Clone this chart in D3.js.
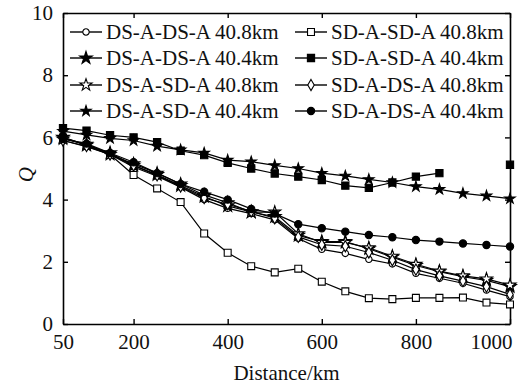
<!DOCTYPE html>
<html>
<head>
<meta charset="utf-8">
<script src="https://cdn.jsdelivr.net/npm/d3@7"></script>
<style>
  body { margin: 0; background: #fff; }
  text { font-family: 'Liberation Serif', 'Times New Roman', serif; fill: #111; }
</style>
</head>
<body>
<div id="chart-container"></div>
<script>
// distances (km)
const distances = [50, 100, 150, 200, 250, 300, 350, 400, 450, 500, 550, 600, 650, 700, 750, 800, 850, 900, 950, 1000];
const xTicks = [50, 200, 400, 600, 800, 1000];
const yTicks = [0, 2, 4, 6, 8, 10];

const seriesNames = [
  'DS-A-DS-A 40.8km', 'SD-A-SD-A 40.8km',
  'DS-A-DS-A 40.4km', 'SD-A-SD-A 40.4km',
  'DS-A-SD-A 40.8km', 'SD-A-DS-A 40.8km',
  'DS-A-SD-A 40.4km', 'SD-A-DS-A 40.4km'
];

// Q values (null = no point)
const dsdsA408 = [5.9, 5.7, 5.45, 5.05, 4.75, 4.4, 4.0, 3.72, 3.55, 3.35, 2.75, 2.4, 2.27, 2.08, 1.93, 1.63, 1.47, 1.31, 1.09, 0.88];
const sdsdA408 = [6.0, 5.75, 5.45, 4.79, 4.36, 3.92, 2.91, 2.29, 1.86, 1.66, 1.78, 1.36, 1.05, 0.83, 0.8, 0.84, 0.84, 0.85, 0.69, 0.63];
const dsdsA404 = [6.0, 5.75, 5.5, 5.1, 4.8, 4.45, 4.1, 3.8, 3.6, 3.45, 2.85, 2.65, 2.65, 2.42, 2.15, 1.88, 1.68, 1.52, 1.4, 1.2];
const sdsdA404 = [6.3, 6.22, 6.07, 6.0, 5.85, 5.57, 5.43, 5.18, 5.0, 4.84, 4.74, 4.63, 4.45, 4.38, 4.55, 4.74, 4.85, null, null, 5.12];
const dssdA408 = [5.95, 5.78, 5.45, 5.15, 4.85, 4.5, 4.15, 3.9, 3.6, 3.6, 2.9, 2.62, 2.62, 2.45, 2.18, 1.92, 1.7, 1.55, 1.45, 1.25];
const sddsA408 = [5.9, 5.72, 5.45, 5.1, 4.78, 4.42, 4.05, 3.85, 3.62, 3.4, 2.8, 2.55, 2.5, 2.3, 2.05, 1.75, 1.55, 1.38, 1.2, 0.95];
const dssdA404 = [6.2, 6.08, 5.97, 5.9, 5.72, 5.6, 5.5, 5.27, 5.22, 5.1, 5.0, 4.85, 4.76, 4.65, 4.55, 4.42, 4.33, 4.2, 4.12, 4.03];
const sddsA404 = [5.95, 5.8, 5.5, 5.2, 4.85, 4.5, 4.25, 4.0, 3.7, 3.55, 3.21, 3.08, 2.97, 2.86, 2.79, 2.7, 2.65, 2.59, 2.54, 2.49];

const seriesValues = [dsdsA408, sdsdA408, dsdsA404, sdsdA404, dssdA408, sddsA408, dssdA404, sddsA404];

// marker style per series
const markers = [
  { type: d3.symbolCircle, size: 32, fill: '#fff' },
  { type: d3.symbolSquare, size: 48, fill: '#fff' },
  { type: d3.symbolStar, size: 50, fill: '#000' },
  { type: d3.symbolSquare, size: 52, fill: '#000' },
  { type: d3.symbolStar, size: 45, fill: '#fff' },
  { type: d3.symbolDiamond, size: 36, fill: '#fff' },
  { type: d3.symbolStar, size: 34, fill: '#000' },
  { type: d3.symbolCircle, size: 42, fill: '#000' }
];

const margin = { top: 13, right: 19, bottom: 63, left: 63 };
const W = 529, H = 387;
const width = W - margin.left - margin.right;
const height = H - margin.top - margin.bottom;

const svg = d3.select('#chart-container')
  .append('svg')
  .attr('width', W)
  .attr('height', H);

const g = svg.append('g').attr('transform', `translate(${margin.left},${margin.top})`);

const x = d3.scaleLinear().domain([50, 1000]).range([0, width]);
const y = d3.scaleLinear().domain([0, 10]).range([height, 0]);

// frame with inward ticks on all sides
g.append('g')
  .attr('transform', `translate(0,${height})`)
  .call(d3.axisBottom(x).tickValues(xTicks).tickFormat(d3.format('d'))
    .tickSizeInner(-5).tickSizeOuter(0).tickPadding(9))
  .call((a) => a.selectAll('text').style('font-size', '21px').attr('dy', '0.75em'))
  // last label sits left of the corner so it stays in the picture
  .call((a) => a.selectAll('text').filter((d) => d === 1000).attr('x', -19));

g.append('g')
  .call(d3.axisTop(x).tickValues(xTicks).tickSizeInner(-5).tickSizeOuter(0).tickFormat(''));

g.append('g')
  .call(d3.axisLeft(y).tickValues(yTicks).tickSizeInner(-5).tickSizeOuter(0).tickPadding(10))
  .call((a) => a.selectAll('text').style('font-size', '21px'));

g.append('g')
  .attr('transform', `translate(${width},0)`)
  .call(d3.axisRight(y).tickValues(yTicks).tickSizeInner(-5).tickSizeOuter(0).tickFormat(''));

g.selectAll('.domain').attr('stroke', '#000').attr('stroke-width', 1.6);
g.selectAll('.tick line').attr('stroke', '#000').attr('stroke-width', 1.4);

// axis labels
svg.append('text')
  .attr('x', margin.left + width / 2)
  .attr('y', 380)
  .attr('text-anchor', 'middle')
  .style('font-size', '21px')
  .text('Distance/km');

svg.append('text')
  .attr('transform', `translate(33,${margin.top + y(4.8)}) rotate(-90)`)
  .attr('text-anchor', 'middle')
  .style('font-size', '21px')
  .style('font-style', 'italic')
  .text('Q');

// lines + markers
const line = d3.line()
  .defined((d) => d.v != null)
  .x((d) => x(d.x))
  .y((d) => y(d.v));

seriesValues.forEach((vals, i) => {
  const pts = distances.map((dx, j) => ({ x: dx, v: vals[j] }));
  g.append('path')
    .datum(pts)
    .attr('fill', 'none')
    .attr('stroke', '#000')
    .attr('stroke-width', 1.2)
    .attr('d', line);

  const m = markers[i];
  g.selectAll(null)
    .data(pts.filter((d) => d.v != null))
    .join('path')
    .attr('transform', (d) => `translate(${x(d.x)},${y(d.v)})`)
    .attr('d', d3.symbol(m.type, m.size))
    .attr('fill', m.fill)
    .attr('stroke', '#000')
    .attr('stroke-width', 1.1);
});

// legend, two columns
const legend = svg.append('g');
const rowY = [32, 58, 85, 111];
const colX = [70, 295];
seriesNames.forEach((name, i) => {
  const cx = colX[i % 2];
  const cy = rowY[Math.floor(i / 2)];
  const lg = legend.append('g').attr('transform', `translate(${cx},${cy})`);
  lg.append('line').attr('x1', 0).attr('x2', 32).attr('y1', 0).attr('y2', 0)
    .attr('stroke', '#000').attr('stroke-width', 1.4);
  const m = markers[i];
  lg.append('path')
    .attr('transform', 'translate(16,0)')
    .attr('d', d3.symbol(m.type, m.size))
    .attr('fill', m.fill)
    .attr('stroke', '#000')
    .attr('stroke-width', 1.1);
  lg.append('text')
    .attr('x', 36)
    .attr('dy', '0.35em')
    .style('font-size', '21px')
    .text(name);
});
</script>
</body>
</html>
